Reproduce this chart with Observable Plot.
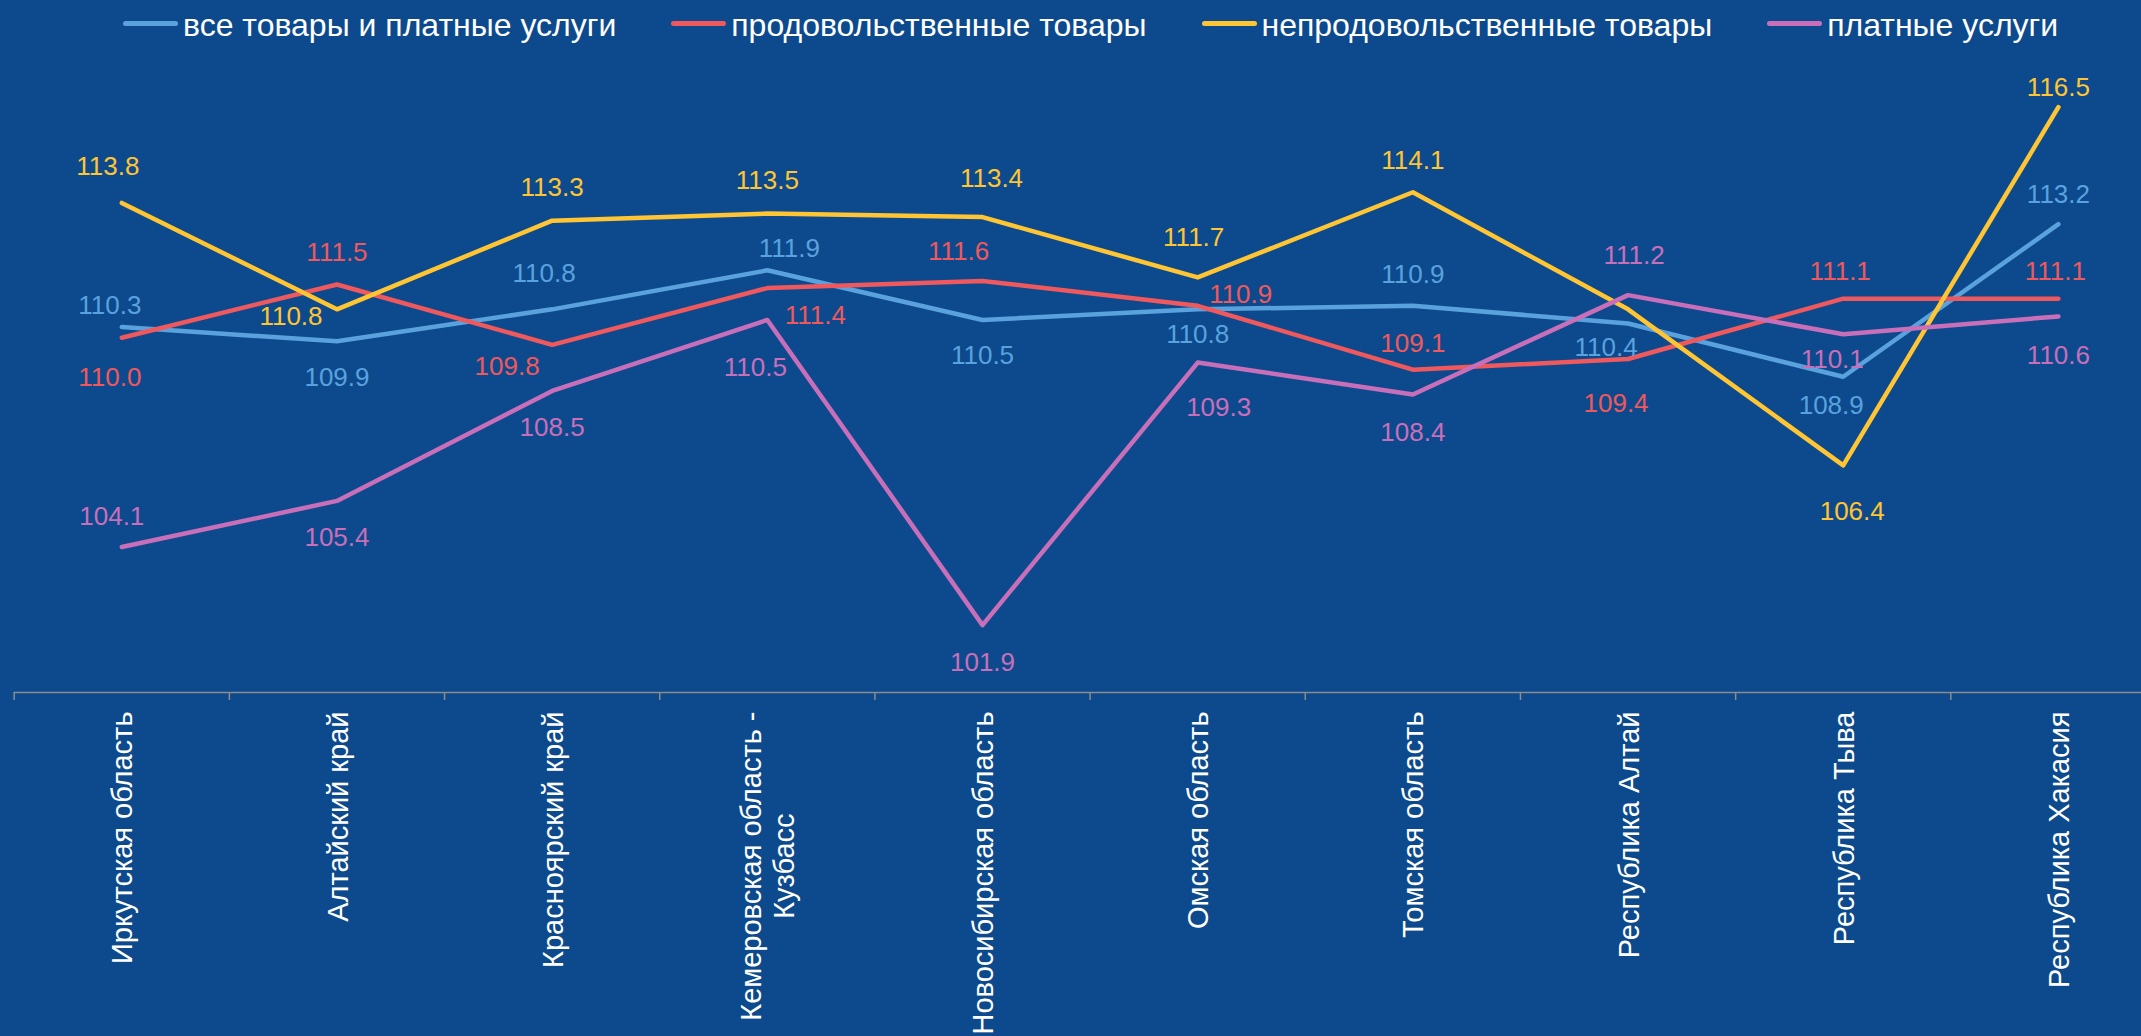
<!DOCTYPE html>
<html><head><meta charset="utf-8">
<script src="https://cdn.jsdelivr.net/npm/d3@7"></script>
<script src="https://cdn.jsdelivr.net/npm/@observablehq/plot@0.6"></script>
<style>
html,body{margin:0;padding:0;background:#0d4a8d;width:2141px;height:1036px;overflow:hidden;font-family:"Liberation Sans",Arial,sans-serif;}
#legend{height:50px;display:flex;align-items:center;padding-left:123px;gap:55px;box-sizing:border-box;}
.item{display:flex;align-items:center;color:#fff;font-size:32px;white-space:nowrap;}
.sw{width:55px;height:5px;border-radius:3px;margin-right:5px;position:relative;top:-2px;}
#chart svg{display:block;}
</style></head><body>
<div id="legend"></div><div id="chart"></div>
<script>
const categories = ["Иркутская область","Алтайский край","Красноярский край","Кемеровская область -\nКузбасс","Новосибирская область","Омская область","Томская область","Республика Алтай","Республика Тыва","Республика Хакасия"];
const seriesNames = ["все товары и платные услуги","продовольственные товары","непродовольственные товары","платные услуги"];
const allGoods = [110.3,109.9,110.8,111.9,110.5,110.8,110.9,110.4,108.9,113.2];
const food     = [110.0,111.5,109.8,111.4,111.6,110.9,109.1,109.4,111.1,111.1];
const nonFood  = [113.8,110.8,113.3,113.5,113.4,111.7,114.1,110.8,106.4,116.5];
const services = [104.1,105.4,108.5,110.5,101.9,109.3,108.4,111.2,110.1,110.6];
const colors = ["#5aa2dd","#ef585c","#ffc533","#c96fb9"];

// label placement (pixel offsets from each point), null = no label shown
const labelOffsets = [
  [[-12,-21],[0,36],[-8,-36],[22,-22],[0,36],[0,25],[0,-31],[-22,24],[-12,29],[0,-30]],
  [[-12,40],[0,-32],[-45,22],[48,28],[-24,-29],[43,-11],[0,-26],[-12,45],[-3,-27],[-3,-27]],
  [[-14,-36],[-46,7.5],[0,-33],[0,-33],[9,-38],[-4,-40],[0,-32],null,[9,46],[0,-19]],
  [[-10,-30],[0,37],[0,37],[-12,48],[0,38],[21,45],[0,38],[6,-39],[-11,25],[0,39]]
];

const seriesValues = [allGoods, food, nonFood, services];
const n = categories.length;
const idx = d3.range(n);
const bounds = d3.range(n + 1).map(i => i - 0.5);
const rows = seriesValues.flatMap((vals, k) => vals.map((v, i) => ({series: seriesNames[k], k, i, v})));

// legend
const legend = d3.select("#legend");
seriesNames.forEach((name, k) => {
  const it = legend.append("div").attr("class", "item");
  it.append("div").attr("class", "sw").style("background", colors[k]);
  it.append("span").text(name);
});

const labelMarks = rows.filter(d => labelOffsets[d.k][d.i]).map(d => {
  const [dx, dy] = labelOffsets[d.k][d.i];
  return Plot.text([d], {x: "i", y: "v", text: r => r.v.toFixed(1), fill: colors[d.k], dx, dy, fontSize: 26});
});

const plot = Plot.plot({
  width: 2141, height: 986,
  marginTop: 3.4, marginBottom: 344, marginLeft: 13.7, marginRight: 0,
  style: {background: "transparent", fontFamily: "'Liberation Sans', Arial, sans-serif", color: "white", overflow: "visible"},
  x: {type: "linear", domain: [-0.5, n - 0.5], range: [13.7, 2165.5], axis: null, label: null},
  y: {domain: [100, 118], axis: null, label: null},
  color: {domain: seriesNames, range: colors},
  marks: [
    Plot.ruleY([100], {stroke: "#8c8c8c", strokeWidth: 1.5}),
    Plot.ruleX(bounds, {x: d => d, y1: 100, y2: 100, insetBottom: -8, stroke: "#8c8c8c", strokeWidth: 1.5}),
    Plot.axisX(idx, {label: null, tickSize: 0, tickPadding: 19, tickFormat: i => categories[i], tickRotate: -90, textAnchor: "end", lineAnchor: "middle", fontSize: 29, fill: "white", lineHeight: 1.14}),
    Plot.line(rows, {x: "i", y: "v", stroke: "series", z: "series", strokeWidth: 4.5, strokeLinecap: "round", strokeLinejoin: "round"}),
    ...labelMarks
  ]
});
document.getElementById("chart").append(plot);

// center the second line of two-line tick labels
plot.querySelectorAll("text").forEach(t => {
  const ts = t.querySelectorAll("tspan");
  if (ts.length === 2) {
    const L1 = ts[0].getComputedTextLength(), L2 = ts[1].getComputedTextLength();
    ts[1].setAttribute("x", -(L1 - L2) / 2);
  }
});
</script>
</body></html>
